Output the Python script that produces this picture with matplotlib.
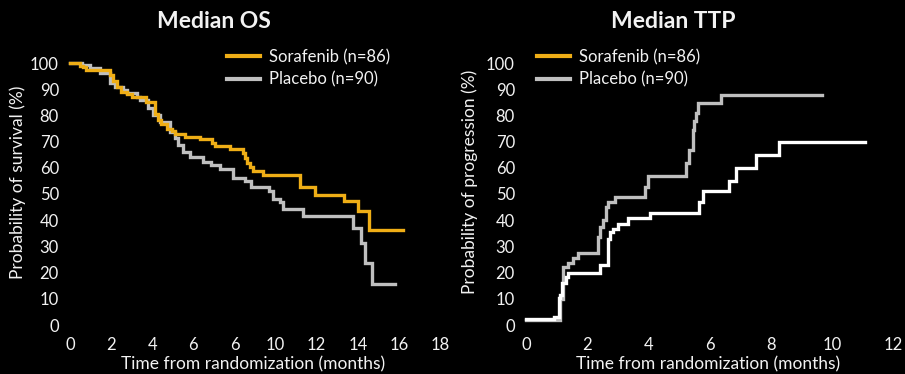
import matplotlib
matplotlib.use("Agg")
import matplotlib.pyplot as plt
from matplotlib.lines import Line2D

# ---- data -------------------------------------------------------------
os_sorafenib_t = [0, 0.5, 0.65, 0.8, 1.95, 2.1, 2.27, 2.5, 2.75, 3.0, 3.72, 4.13, 4.29,
                  4.45, 4.7, 4.95, 5.1, 5.58, 6.3, 6.9, 7.04, 7.77, 8.41, 8.5, 8.6, 8.75,
                  8.9, 9.38, 11.17, 11.9, 13.35, 14.0, 14.56, 16.18]
os_sorafenib_v = [100, 99, 98.5, 97.3, 95.4, 93, 91, 89, 88.2, 86.9, 85.2, 80.5, 78.2,
                  76.6, 75, 73.9, 72.8, 71.8, 70.9, 69.5, 68.4, 67.1, 65.5, 63.7, 62, 60.4,
                  58.9, 57.1, 52.5, 49.6, 47.2, 43.4, 36.4, 36.4]

os_placebo_t = [0, 0.57, 0.97, 1.46, 1.94, 2.18, 2.6, 2.75, 3.24, 3.4, 3.8, 4.05, 4.37,
                4.85, 5.1, 5.26, 5.5, 5.83, 6.47, 6.88, 7.28, 7.93, 8.5, 8.82, 9.7, 9.87,
                10.2, 10.35, 11.33, 13.75, 14.16, 14.35, 14.67, 15.81]
os_placebo_v = [100, 99.2, 98, 96.3, 92.2, 91, 89.7, 88.4, 87, 85.9, 82.7, 80.2, 77.6,
                73.8, 71.2, 68.7, 66.1, 64.2, 62.3, 61, 59.7, 56.2, 54.8, 52.8, 51.3, 48.2,
                46.8, 44.2, 41.5, 36.9, 31.4, 23.5, 15.6, 15.6]

ttp_sorafenib_t = [0, 0.9, 1.07, 1.12, 1.17, 1.3, 1.38, 2.41, 2.68, 2.74, 2.84, 3.0,
                   3.33, 4.04, 5.67, 5.78, 6.64, 6.86, 7.53, 8.27, 11.1]
ttp_sorafenib_v = [2.2, 3.2, 10.3, 11.5, 16, 18.3, 20, 22.9, 33, 35.6, 36.5, 38.5,
                   40.7, 42.6, 47, 51, 55.1, 59.8, 64.9, 69.7, 69.7]

ttp_placebo_t = [0, 1.1, 1.2, 1.38, 1.54, 1.7, 2.36, 2.42, 2.52, 2.63, 2.68, 2.9,
                 3.88, 3.98, 5.23, 5.34, 5.45, 5.5, 5.56, 5.61, 6.37, 9.68]
ttp_placebo_v = [1.9, 10, 22.3, 23.8, 25.4, 27.4, 33.7, 37.5, 40, 45, 47, 49,
                 52.8, 57, 61.7, 66.8, 74.4, 78, 80.8, 84.6, 87.8, 87.8]

legend_labels = ["Sorafenib (n=86)", "Placebo (n=90)"]
y_ticks = [0, 10, 20, 30, 40, 50, 60, 70, 80, 90, 100]
os_x_ticks = [0, 2, 4, 6, 8, 10, 12, 14, 16, 18]
os_x_ticklabels = ["0", "2", "4", "6", "6", "10", "12", "14", "16", "18"]
ttp_x_ticks = [0, 2, 4, 6, 8, 10, 12]

# ---- style ------------------------------------------------------------
YELLOW = "#EFAE16"
GRAY = "#BFBFBF"
WHITE = "#FFFFFF"
TXT = "#F2F2F2"
FONT = "Lato"
LW = 2.4

plt.rcParams["font.family"] = [FONT, "DejaVu Sans"]

W, H = 905, 374
fig = plt.figure(figsize=(W / 100, H / 100), dpi=100, facecolor="black")


def px_axes(x0, x1, y_top, y_bot):
    return fig.add_axes([x0 / W, 1 - y_bot / H, (x1 - x0) / W, (y_bot - y_top) / H])


def style(ax, xmax, xticks, xticklabels, ylabel, ylab_x, title, title_x):
    ax.set_facecolor("black")
    for s in ax.spines.values():
        s.set_visible(False)
    ax.set_xlim(0, xmax)
    ax.set_ylim(0, 100)
    ax.set_yticks(y_ticks)
    ax.set_xticks(xticks)
    ax.set_xticklabels(xticklabels)
    ax.tick_params(axis="both", length=0, colors=TXT, labelsize=12)
    ax.tick_params(axis="y", pad=8)
    ax.tick_params(axis="x", pad=9)
    ax.set_xlabel("Time from randomization (months)", color=TXT, fontsize=12.5)
    ax.xaxis.label.set_va("center")
    ax.xaxis.set_label_coords(0.495, -39 / 262)
    ax.set_ylabel(ylabel, color=TXT, fontsize=12.5)
    ax.yaxis.label.set_va("center")
    ax.yaxis.set_label_coords(ylab_x, 0.545)
    ax.text(title_x, 1 + 41 / 262, title, transform=ax.transAxes, ha="center",
            va="center", color=TXT, fontsize=16.5, fontweight="bold")


# ---- overall survival -------------------------------------------------
ax1 = px_axes(70, 440, 63, 325)
ax1.step(os_placebo_t, os_placebo_v, where="post", color=GRAY, lw=LW, clip_on=False,
         solid_joinstyle="miter")
ax1.step(os_sorafenib_t, os_sorafenib_v, where="post", color=YELLOW, lw=LW, clip_on=False,
         solid_joinstyle="miter")
style(ax1, 18, os_x_ticks, os_x_ticklabels, "Probability of survival (%)",
      (18 - 70) / 370, "Median OS", (214 - 70) / 370)

# ---- time to progression ----------------------------------------------
ax2 = px_axes(526, 893, 63, 325)
ax2.step(ttp_placebo_t, ttp_placebo_v, where="post", color=GRAY, lw=LW, clip_on=False,
         solid_joinstyle="miter")
ax2.step(ttp_sorafenib_t, ttp_sorafenib_v, where="post", color=WHITE, lw=LW, clip_on=False,
         solid_joinstyle="miter")
style(ax2, 12, ttp_x_ticks, [str(t) for t in ttp_x_ticks], "Probability of progression (%)",
      (470 - 526) / 367, "Median TTP", (673 - 526) / 367)

# ---- legends ----------------------------------------------------------
handles = [Line2D([], [], color=YELLOW, lw=3), Line2D([], [], color=GRAY, lw=3)]
for ax, x_px in ((ax1, 227), (ax2, 537)):
    leg = ax.legend(handles, legend_labels, loc="upper left",
                    bbox_to_anchor=(x_px / W, 1 - 49 / H), bbox_transform=fig.transFigure,
                    frameon=False, fontsize=12, handlelength=2.0, handletextpad=0.5,
                    labelspacing=0.4, borderpad=0, borderaxespad=0)
    for t in leg.get_texts():
        t.set_color(TXT)

fig.savefig("out.png", dpi=100, facecolor="black")
